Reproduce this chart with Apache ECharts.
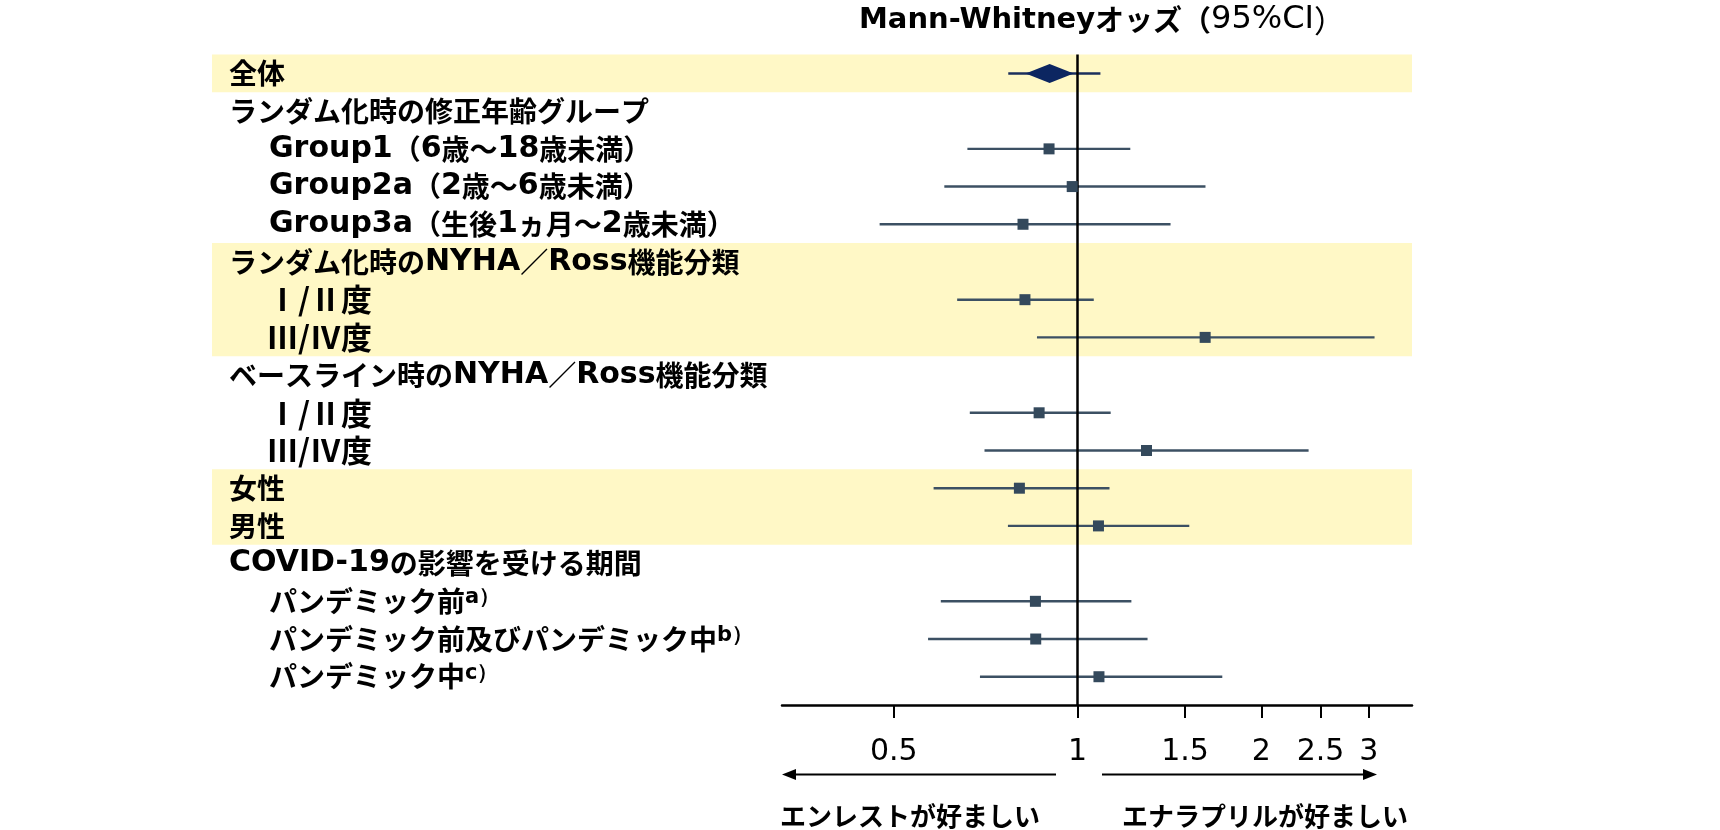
<!DOCTYPE html>
<html>
<head>
<meta charset="utf-8">
<script src="https://cdn.jsdelivr.net/npm/echarts@6/dist/echarts.min.js"></script>
<style>
html,body{margin:0;padding:0;background:#fff;}
#chart{width:1720px;height:830px;}
</style>
</head>
<body>
<div id="chart"></div>
<script>
// ---- data ----
const rowLabels = [
  '全体',
  'ランダム化時の修正年齢グループ',
  'Group1（6歳～18歳未満）',
  'Group2a（2歳～6歳未満）',
  'Group3a（生後1ヵ月～2歳未満）',
  'ランダム化時のNYHA／Ross機能分類',
  'Ⅰ/Ⅱ度',
  'Ⅲ/Ⅳ度',
  'ベースライン時のNYHA／Ross機能分類',
  'Ⅰ/Ⅱ度',
  'Ⅲ/Ⅳ度',
  '女性',
  '男性',
  'COVID-19の影響を受ける期間',
  'パンデミック前',
  'パンデミック前及びパンデミック中',
  'パンデミック中'
];
const rowIndented = [false,false,true,true,true,false,true,true,false,true,true,false,false,false,true,true,true];
const rowNotes = ['','','','','','','','','','','','','','','a）','b）','c）'];
const estimates = [0.90, null, 0.898, 0.98, 0.814, null, 0.82, 1.618, null, 0.865, 1.297, 0.803, 1.082, null, 0.853, 0.854, 1.084];
const lowerCI   = [0.77, null, 0.66, 0.605, 0.474, null, 0.635, 0.858, null, 0.666, 0.704, 0.581, 0.769, null, 0.597, 0.569, 0.692];
const upperCI   = [1.09, null, 1.22, 1.62, 1.42, null, 1.063, 3.065, null, 1.133, 2.39, 1.128, 1.524, null, 1.225, 1.302, 1.726];
const bandRows  = [[0,0],[5,7],[11,12]];
const tickValues = [0.5, 1, 1.5, 2, 2.5, 3];
const tickLabels = ['0.5', '1', '1.5', '2', '2.5', '3'];
const axisMin = 0.328, axisMax = 3.53;
const leftNote = 'エンレストが好ましい';
const rightNote = 'エナラプリルが好ましい';

// ---- build ----
const L = Math.log10;
const latin = "'DejaVu Sans',sans-serif";
const cjk = "'Noto Sans CJK JP',sans-serif";
const rowIdx = rowLabels.map((_, i) => i);
const ciData = [], sqData = [], dmData = [];
rowLabels.forEach((_, i) => {
  if (estimates[i] == null) return;
  ciData.push([L(lowerCI[i]), L(upperCI[i]), i]);
  if (i === 0) dmData.push([L(estimates[i]), i]);
  else sqData.push([L(estimates[i]), i]);
});
const logTicks = tickValues.map(v => L(v));

function runs(text) {
  const out = [];
  const re = /[A-Za-z0-9\-\.%]+|[^A-Za-z0-9\-\.%]+/g;
  let m;
  while ((m = re.exec(text)) !== null) {
    out.push({latin: /^[A-Za-z0-9\-\.%]/.test(m[0]), t: m[0]});
  }
  return out;
}
function labelRich(i) {
  const parts = runs(rowLabels[i]);
  const roman = /[Ⅰ-Ⅻ]/.test(rowLabels[i]);
  let s = '';
  parts.forEach((p, k) => {
    let st = p.latin ? 'L' : (roman ? 'R' : 'C');
    if (k === 0 && rowIndented[i]) st += 'i';
    s += '{' + st + '|' + p.t + '}';
  });
  if (rowNotes[i]) s += '{sup|' + rowNotes[i] + '}';
  return s;
}

const chart = echarts.init(document.getElementById('chart'), null, {renderer: 'canvas'});
const gridTop = 54.6, gridBottom = 125;
const LS = {fontSize: 30, fontWeight: 'bold', fontFamily: latin, color: '#000'};
const CS = {fontSize: 28, fontWeight: 'bold', fontFamily: cjk, color: '#000'};
const RS = {fontSize: 31, fontWeight: 'bold', fontFamily: cjk, color: '#000'};
const ind = {padding: [0, 0, 0, 40]};
const option = {
  animation: false,
  backgroundColor: '#ffffff',
  grid: [
    {left: 782, right: 308, top: gridTop, bottom: gridBottom, containLabel: false},
    {left: 212, right: 308, top: gridTop, bottom: gridBottom, containLabel: false}
  ],
  xAxis: [
    {
      type: 'value', gridIndex: 0, min: L(axisMin), max: L(axisMax),
      axisLine: {show: true, onZero: false, lineStyle: {color: '#000', width: 2.5}},
      axisTick: {show: true, customValues: logTicks, length: 13, lineStyle: {color: '#000', width: 2}},
      axisLabel: {
        customValues: logTicks, margin: 32, fontSize: 30, color: '#000',
        fontFamily: latin,
        formatter: (v) => {
          let best = 0;
          logTicks.forEach((t, k) => { if (Math.abs(t - v) < Math.abs(logTicks[best] - v)) best = k; });
          return tickLabels[best];
        }
      },
      splitLine: {show: false}
    },
    {type: 'value', gridIndex: 1, min: 0, max: 1, show: false}
  ],
  yAxis: [
    {
      type: 'value', gridIndex: 0, inverse: true, min: -0.5, max: 16.75,
      axisLine: {show: false}, axisTick: {show: false}, splitLine: {show: false},
      axisLabel: {
        customValues: rowIdx, align: 'left', margin: 553,
        formatter: (v) => labelRich(Math.round(v)),
        rich: {
          L: LS,
          C: CS,
          R: RS,
          Li: Object.assign({}, LS, ind),
          Ci: Object.assign({}, CS, ind),
          Ri: Object.assign({}, RS, {padding: [0, 0, 0, 38]}),
          sup: {fontSize: 21, fontWeight: 'bold', fontFamily: latin, color: '#000', verticalAlign: 'top'}
        }
      }
    },
    {type: 'value', gridIndex: 1, inverse: true, min: -0.5, max: 16.75, show: false}
  ],
  series: [
    {
      type: 'custom', xAxisIndex: 1, yAxisIndex: 1, z: 0, silent: true,
      data: bandRows.map(r => [r[0] - 0.5, r[1] + 0.5]),
      encode: {y: [0, 1]},
      renderItem: (params, api) => {
        const p1 = api.coord([0, api.value(0)]);
        const p2 = api.coord([1, api.value(1)]);
        return {type: 'rect', shape: {x: p1[0], y: p1[1], width: p2[0] - p1[0], height: p2[1] - p1[1]},
                style: {fill: '#FFF8C6'}};
      }
    },
    {
      type: 'custom', xAxisIndex: 0, yAxisIndex: 0, z: 3, silent: true,
      data: ciData, encode: {x: [0, 1], y: 2},
      renderItem: (params, api) => {
        const r = api.value(2);
        const p1 = api.coord([api.value(0), r]);
        const p2 = api.coord([api.value(1), r]);
        return {type: 'line', shape: {x1: p1[0], y1: p1[1], x2: p2[0], y2: p2[1]},
                style: {stroke: r === 0 ? '#1b2f5c' : '#3c5063', lineWidth: 2.4}};
      },
      markLine: {
        silent: true, symbol: ['none', 'none'], label: {show: false},
        lineStyle: {color: '#000', width: 2.5, type: 'solid'},
        data: [{xAxis: 0}]
      }
    },
    {
      type: 'scatter', xAxisIndex: 0, yAxisIndex: 0, z: 5, silent: true,
      symbol: 'rect', symbolSize: 11, itemStyle: {color: '#34495c', opacity: 1},
      data: sqData
    },
    {
      type: 'scatter', xAxisIndex: 0, yAxisIndex: 0, z: 5, silent: true,
      symbol: 'diamond', symbolSize: [48, 19], itemStyle: {color: '#0c2661', opacity: 1},
      data: dmData
    }
  ],
  graphic: [
    {
      type: 'text', x: 1102, y: 20, z: 10,
      style: {
        text: '{b|Mann-Whitney}{bc|オッズ（}{r|95%CI}{pe|）}',
        textAlign: 'center', textVerticalAlign: 'middle', align: 'center', verticalAlign: 'middle',
        rich: {
          b: {fontSize: 29, fontWeight: 'bold', fontFamily: latin, fill: '#000', color: '#000'},
          bc: {fontSize: 29, fontWeight: 'bold', fontFamily: cjk, fill: '#000', color: '#000'},
          pe: {fontSize: 31, fontWeight: 'normal', fontFamily: cjk, fill: '#000', color: '#000'},
          r: {fontSize: 32, fontWeight: 'normal', fontFamily: latin, fill: '#000', color: '#000'}
        }
      }
    },
    {type: 'line', shape: {x1: 1056, y1: 774.5, x2: 792, y2: 774.5}, style: {stroke: '#000', lineWidth: 2}},
    {type: 'polygon', shape: {points: [[782, 774.5], [796, 769], [796, 780]]}, style: {fill: '#000'}},
    {type: 'line', shape: {x1: 1102, y1: 774.5, x2: 1367, y2: 774.5}, style: {stroke: '#000', lineWidth: 2}},
    {type: 'polygon', shape: {points: [[1377, 774.5], [1363, 769], [1363, 780]]}, style: {fill: '#000'}},
    {
      type: 'text', x: 780, y: 816,
      style: {text: leftNote, font: 'bold 26px ' + cjk, fill: '#000',
              textAlign: 'left', textVerticalAlign: 'middle', align: 'left', verticalAlign: 'middle'}
    },
    {
      type: 'text', x: 1122, y: 816,
      style: {text: rightNote, font: 'bold 26px ' + cjk, fill: '#000',
              textAlign: 'left', textVerticalAlign: 'middle', align: 'left', verticalAlign: 'middle'}
    }
  ]
};
chart.setOption(option);
</script>
</body>
</html>
